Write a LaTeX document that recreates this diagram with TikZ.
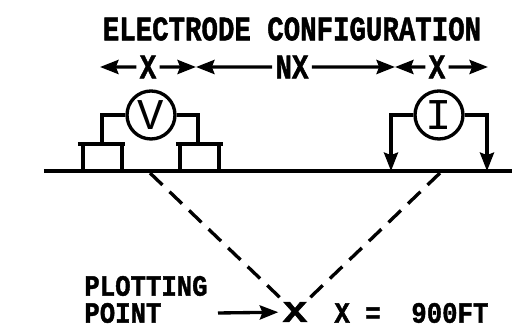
\documentclass[tikz,border=0pt]{standalone}
\usepackage{fontspec}
\setmonofont[BoldFeatures={FakeBold=1.5}]{Liberation Mono}
\usetikzlibrary{arrows.meta}

\begin{document}
\begin{tikzpicture}[x=0.02cm,y=0.02cm,>={Stealth[length=10.5pt,width=8pt,inset=1.5pt]},line width=1.9pt,
    every node/.style={font=\ttfamily\bfseries\fontsize{15.6}{16}\selectfont,inner sep=1pt},
    tall/.style={yscale=1.25,transform shape},
    small/.style={font=\ttfamily\bfseries\fontsize{14.6}{15}\selectfont,yscale=1.15,transform shape},
    meter/.style={draw,circle,minimum size=48*0.02cm,inner sep=0pt,font=\ttfamily\fontsize{25}{26}\selectfont},
    plotdash/.style={dash pattern=on 9.8pt off 5.6pt}]
    \useasboundingbox (0,0) rectangle (512,328);

    \node[tall] (title) at (292,299) {ELECTRODE CONFIGURATION};

    % spacing row
    \node[tall] (x1) at (148,261) {X};
    \node[tall] (nx) at (292,261) {NX};
    \node[tall] (x2) at (437,261) {X};
    \coordinate (e1) at (100,261);
    \coordinate (e2) at (196,261);
    \coordinate (e3) at (395,261);
    \coordinate (e4) at (488,261);

    \draw[->] (x1)--(e1);
    \draw[->] (x1)--(e2);
    \draw[->] (nx)--(e2);
    \draw[->] (nx)--(e3);
    \draw[->] (x2)--(e3);
    \draw[->] (x2)--(e4);

    % ground
    \coordinate (g1) at (44,157);
    \coordinate (g2) at (512,157);
    \draw (g1)--(g2);

    % voltage side
    \node[meter] (vm) at (151,213) {V};
    \coordinate (p1) at (102,184);
    \coordinate (p2) at (198,184);
    \draw (vm.west)-|(p1);
    \draw (vm.east)-|(p2);
    \draw (78,184)--(125,184);
    \draw (83,184)--(83,157);
    \draw (122,184)--(122,157);
    \draw (176,184)--(223,184);
    \draw (180,184)--(180,157);
    \draw (219,184)--(219,157);

    % current side
    \node[meter] (im) at (439,213) {I};
    \coordinate (q1) at (391,157);
    \coordinate (q2) at (487,157);
    \draw[->] (im.west)-|(q1);
    \draw[->] (im.east)-|(q2);

    % plotting point
    \node[font=\ttfamily\bfseries\fontsize{17}{18}\selectfont,xscale=1.35,transform shape] (pp) at (295,16) {X};
    \coordinate (d1) at (150,155);
    \coordinate (d2) at (440,155);
    \draw[plotdash] (d1)--(pp);
    \draw[plotdash] (d2)--(pp);

    \node[small,anchor=west] (plot) at (81,42) {PLOTTING};
    \node[small,anchor=west] (point) at (81,15) {POINT};
    \coordinate (s1) at (218,15);
    \draw[->] (s1)--(pp);

    \node[small,anchor=west] (val) at (331,15) {X~=~~900FT};
\end{tikzpicture}
\end{document}
